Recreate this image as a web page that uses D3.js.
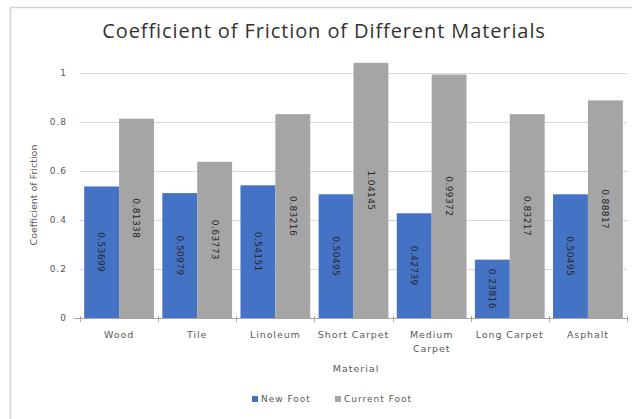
<!DOCTYPE html>
<html><head><meta charset="utf-8">
<script src="https://cdn.jsdelivr.net/npm/d3@7"></script>
<style>html,body{margin:0;padding:0;background:#fff;}svg{display:block;}</style>
</head><body>
<script>
const categories = ["Wood","Tile","Linoleum","Short Carpet","Medium Carpet","Long Carpet","Asphalt"];
const categoryLines = [["Wood"],["Tile"],["Linoleum"],["Short Carpet"],["Medium","Carpet"],["Long Carpet"],["Asphalt"]];
const seriesNames = ["New Foot","Current Foot"];
const newFoot = [0.53699,0.50979,0.54151,0.50495,0.42739,0.23816,0.50495];
const currentFoot = [0.81338,0.63773,0.83216,1.04145,0.99372,0.83217,0.88817];
const newFootLabels = ["0.53699","0.50979","0.54151","0.50495","0.42739","0.23816","0.50495"];
const currentFootLabels = ["0.81338","0.63773","0.83216","1.04145","0.99372","0.83217","0.88817"];
const yTicks = [0,0.2,0.4,0.6,0.8,1];
const yTickLabels = ["0","0.2","0.4","0.6","0.8","1"];
const colors = ["#4472C4","#A5A5A5"];

const W=632,H=419;
const svg=d3.select("body").append("svg").attr("width",W).attr("height",H);
const font="'DejaVu Sans', 'Verdana', sans-serif";
const tfont="'Open Sans', 'Liberation Sans', sans-serif";

// chart frame
svg.append("rect").attr("x",10.5).attr("y",7.5).attr("width",700).attr("height",500)
  .attr("fill","#fff").attr("stroke","#d4d4d4").attr("stroke-width",1.5);

const x0=80,x1=627,yb=318,yt=73;
const x=d3.scaleBand().domain(categories).range([x0,x1]).paddingInner(0).paddingOuter(0);
const y=d3.scaleLinear().domain([0,1]).range([yb,yt]);
const inner=d3.scaleBand().domain(seriesNames).range([0,x.bandwidth()]).paddingInner(0).paddingOuter(0.12);

// gridlines
svg.append("g").selectAll("line").data(yTicks.filter(d=>d>0)).join("line")
  .attr("x1",x0).attr("x2",x1).attr("y1",d=>Math.round(y(d))+0.5).attr("y2",d=>Math.round(y(d))+0.5)
  .attr("stroke","#d9d9d9").attr("stroke-width",1);

// y tick labels
svg.append("g").selectAll("text").data(yTicks).join("text")
  .attr("x",67).attr("y",d=>y(d)).attr("dy","0.35em").attr("text-anchor","end")
  .attr("font-family",font).attr("font-size",9).attr("letter-spacing",1).attr("fill","#595959")
  .text((d,i)=>yTickLabels[i]);

// bars
const series=[newFoot,currentFoot];
const labels=[newFootLabels,currentFootLabels];
series.forEach((vals,si)=>{
  const g=svg.append("g");
  g.selectAll("rect").data(categories).join("rect")
    .attr("x",c=>x(c)+inner(seriesNames[si]))
    .attr("width",inner.bandwidth())
    .attr("y",(c,i)=>y(vals[i]))
    .attr("height",(c,i)=>y(0)-y(vals[i]))
    .attr("fill",colors[si]);
  g.selectAll("text").data(categories).join("text")
    .attr("transform",(c,i)=>{
      const cx=x(c)+inner(seriesNames[si])+inner.bandwidth()/2;
      const cy=(y(vals[i])+y(0))/2;
      return `translate(${cx},${cy}) rotate(90)`;
    })
    .attr("text-anchor","middle").attr("dy","0.35em")
    .attr("font-family",font).attr("font-size",9).attr("letter-spacing",0.4).attr("fill","#262626")
    .text((c,i)=>labels[si][i]);
});

// x axis
const ax=svg.append("g");
ax.append("line").attr("x1",x0-6).attr("x2",x1).attr("y1",yb+0.5).attr("y2",yb+0.5).attr("stroke","#a6a6a6");
const bounds=categories.map(c=>x(c)).concat([x1]);
ax.selectAll("line.t").data(bounds).join("line").attr("class","t")
  .attr("x1",d=>Math.round(d)+0.5).attr("x2",d=>Math.round(d)+0.5).attr("y1",yb-2).attr("y2",yb+4)
  .attr("stroke","#a6a6a6");

// category labels
const cl=svg.append("g");
categories.forEach((c,i)=>{
  const t=cl.append("text").attr("x",x(c)+x.bandwidth()/2).attr("y",338)
    .attr("text-anchor","middle").attr("font-family",font).attr("font-size",9.5)
    .attr("letter-spacing",0.9).attr("fill","#595959");
  categoryLines[i].forEach((ln,j)=>t.append("tspan").attr("x",x(c)+x.bandwidth()/2).attr("dy",j?13.5:0).text(ln));
});

// axis titles
svg.append("text").attr("x",356).attr("y",372).attr("text-anchor","middle")
  .attr("font-family",font).attr("font-size",9.5).attr("letter-spacing",1).attr("fill","#595959").text("Material");
svg.append("text").attr("transform","translate(37,195) rotate(-90)").attr("text-anchor","middle")
  .attr("font-family",font).attr("font-size",9.5).attr("fill","#595959").text("Coefficient of Friction");

// title
svg.append("text").attr("x",324).attr("y",38).attr("text-anchor","middle")
  .attr("font-family",tfont).attr("font-size",20).attr("letter-spacing",0.9).attr("fill","#333333")
  .text("Coefficient of Friction of Different Materials");

// legend
const legX=[252,335];
seriesNames.forEach((n,i)=>{
  svg.append("rect").attr("x",legX[i]).attr("y",396).attr("width",6).attr("height",6).attr("fill",colors[i]);
  svg.append("text").attr("x",legX[i]+9).attr("y",399).attr("dy","0.35em")
    .attr("font-family",font).attr("font-size",9).attr("letter-spacing",1).attr("fill","#595959").text(n);
});
</script>
</body></html>
